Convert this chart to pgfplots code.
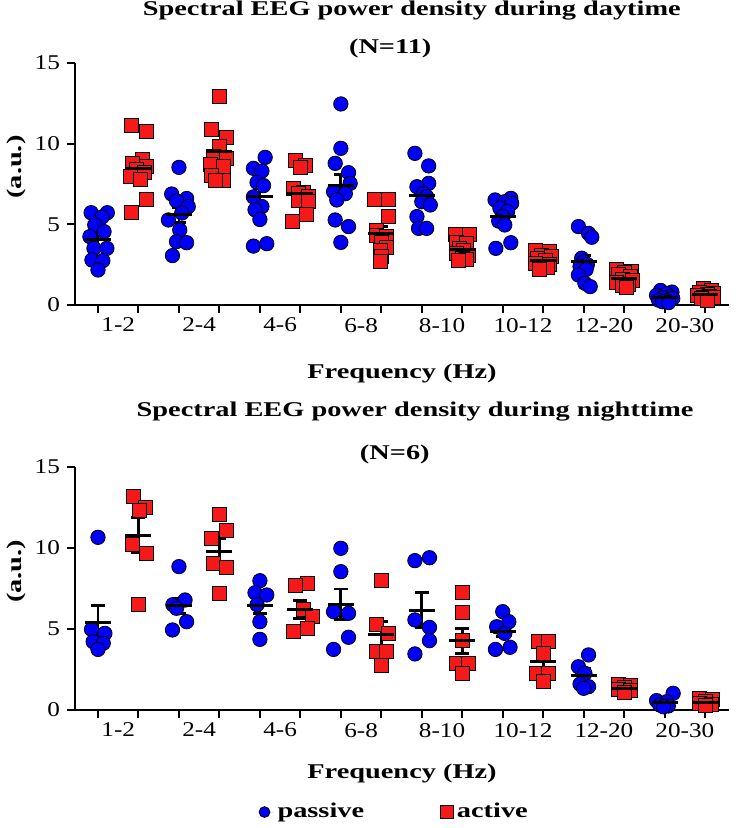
\documentclass[border=0pt]{standalone}
\usepackage{pgfplots}
\usepackage{pgfplotstable}
\pgfplotsset{compat=1.18}
\usepackage{fontspec}
\setmainfont{Liberation Serif}
\newfontfamily\wide{Liberation Serif}[FakeStretch=1.2]
\newfontfamily\widebf{Liberation Serif Bold}[FakeStretch=1.35]
\newcommand\tfont{\widebf\fontsize{10.5}{13}\selectfont}
\definecolor{pblue}{RGB}{0,0,250}
\definecolor{ared}{RGB}{245,25,25}

% ---------- top panel (daytime) ----------
\pgfplotstableread{
x y
-0.17 5.72
0.23 5.72
0.10 5.45
-0.08 4.96
0.15 4.55
-0.20 4.24
-0.10 3.51
0.22 3.51
-0.15 2.79
0.12 2.75
0.00 2.17
2.00 8.53
1.82 6.88
2.19 6.60
1.94 6.45
2.23 6.10
2.07 5.70
1.74 5.27
2.02 4.65
1.94 3.93
2.19 3.86
1.84 3.06
4.13 9.15
3.84 8.47
4.05 8.30
3.93 7.60
4.09 7.40
3.84 6.70
4.05 6.10
3.88 5.90
4.00 5.30
3.84 3.65
4.17 3.80
6.00 12.46
6.00 9.71
5.86 8.78
6.19 8.20
6.23 7.54
5.82 7.02
6.11 6.90
5.90 6.51
5.86 5.27
6.19 4.86
6.00 3.88
7.83 9.40
8.17 8.62
8.17 7.54
7.88 7.33
8.04 6.90
8.12 6.71
8.00 6.40
8.21 6.20
7.88 5.48
7.92 4.75
8.12 4.75
10.20 6.61
9.81 6.51
10.05 6.40
10.22 6.30
9.93 6.00
10.12 5.80
10.00 5.48
9.90 5.20
10.05 4.96
10.20 3.86
9.83 3.51
11.87 4.86
12.12 4.44
12.20 4.20
11.95 2.90
12.00 2.69
12.09 2.50
11.91 2.38
12.06 2.20
11.87 1.86
12.03 1.34
12.16 1.14
13.90 0.90
14.18 0.80
14.05 0.70
13.80 0.60
14.12 0.50
13.95 0.45
14.20 0.40
13.85 0.30
14.05 0.25
13.95 0.20
14.10 0.15
}\dayP
\pgfplotstableread{
x y
0.83 11.16
1.19 10.74
1.10 9.00
0.85 8.80
1.20 8.60
0.95 8.40
1.15 8.20
0.80 8.00
1.05 7.80
1.19 6.55
0.83 5.74
3.00 12.91
2.81 10.89
3.18 10.39
3.00 9.80
2.85 9.20
3.18 9.10
2.77 8.70
3.10 8.60
2.81 8.06
3.10 7.75
2.90 7.75
4.87 8.99
5.12 8.68
5.00 8.50
4.83 7.20
5.07 7.00
4.95 6.90
5.20 6.70
4.95 6.50
5.20 6.40
5.16 5.60
4.80 5.17
6.84 6.55
7.17 6.55
7.17 5.48
6.88 4.60
6.88 4.34
7.13 4.24
7.00 3.90
7.13 3.60
6.97 3.41
7.00 3.00
6.97 2.69
8.82 4.40
9.18 4.40
8.86 3.90
9.11 3.80
8.94 3.50
9.03 3.40
8.86 3.20
9.14 3.10
9.00 2.90
9.11 2.80
8.90 2.75
10.80 3.40
11.15 3.35
10.95 3.10
11.20 3.00
10.85 2.90
11.05 2.75
10.80 2.60
11.15 2.50
10.95 2.40
11.10 2.30
10.90 2.20
12.82 2.20
13.18 2.10
13.00 2.00
12.85 1.90
13.15 1.80
12.95 1.60
13.20 1.50
12.80 1.40
13.10 1.30
12.95 1.20
13.05 1.10
14.95 1.00
15.15 0.90
14.85 0.80
15.20 0.70
15.05 0.65
14.80 0.60
15.10 0.55
14.95 0.50
15.20 0.45
14.90 0.40
15.05 0.30
}\dayA
\pgfplotstableread{
x m s
0 4.03 0.39
1 8.47 0.47
2 5.58 0.47
3 9.50 0.48
4 6.71 0.51
5 6.92 0.37
6 7.38 0.72
7 4.44 0.41
8 6.76 0.41
9 3.41 0.17
10 5.48 0.31
11 2.75 0.15
12 2.67 0.38
13 1.63 0.10
14 0.48 0.08
15 0.62 0.08
}\dayM

% ---------- bottom panel (nighttime) ----------
\pgfplotstableread{
x y
0.00 10.66
-0.16 4.98
0.17 4.73
-0.12 4.22
0.13 4.12
0.00 3.74
2.00 8.85
2.15 6.79
1.85 6.50
1.94 6.28
2.19 5.45
1.84 4.94
4.00 7.98
3.88 7.24
4.17 7.10
3.93 6.50
4.00 5.45
4.00 4.36
6.00 9.98
6.00 8.54
5.82 6.07
6.19 5.97
6.19 4.49
5.82 3.74
7.83 9.22
8.19 9.40
7.83 5.56
8.19 5.10
8.19 4.28
7.83 3.46
10.00 6.07
10.15 5.45
9.85 5.14
10.05 4.73
10.18 3.87
9.82 3.74
12.12 3.40
11.87 2.67
12.03 2.26
11.91 1.60
12.12 1.44
12.00 1.34
13.80 0.58
14.21 1.03
14.05 0.51
13.88 0.31
14.09 0.25
13.97 0.20
}\nightP
\pgfplotstableread{
x y
0.88 13.20
1.17 12.50
1.03 12.30
0.85 10.25
1.20 9.67
1.00 6.54
3.00 12.10
3.18 11.07
2.81 10.60
2.85 9.05
3.18 8.81
3.00 7.20
5.17 7.82
4.87 7.72
5.07 6.20
5.30 5.76
5.17 5.04
4.83 4.84
7.00 8.02
6.88 5.31
7.17 4.73
6.88 3.60
7.13 3.60
7.00 2.74
9.00 7.24
9.00 6.00
9.00 4.32
8.86 2.88
9.15 2.88
9.00 2.26
10.88 4.22
11.12 4.22
11.00 3.50
10.83 2.26
11.12 2.26
11.00 1.75
12.85 1.55
13.15 1.50
13.00 1.40
12.85 1.30
13.15 1.20
13.00 1.10
14.85 0.70
15.18 0.65
15.00 0.50
14.85 0.40
15.15 0.35
15.00 0.30
}\nightA
\pgfplotstableread{
x m s
0 5.39 1.08
1 10.80 1.06
2 6.42 0.46
3 9.81 0.74
4 6.48 0.53
5 6.21 0.56
6 6.52 0.95
7 4.63 0.81
8 6.17 1.07
9 4.26 0.77
10 4.84 0.30
11 2.98 0.47
12 2.16 0.41
13 1.34 0.10
14 0.47 0.10
15 0.47 0.08
}\nightM

\pgfplotsset{
  eegaxis/.style={
    scale only axis,
    width=327pt,
    anchor=south west,
    xmin=-0.568, xmax=15.59,
    ymin=0, ymax=15,
    clip=false,
    axis x line*=bottom,
    axis y line*=left,
    axis line style={line width=1.4pt, black},
    tick align=outside,
    major tick length=4pt,
    tick style={line width=1pt, black},
    ytick={0,5,10,15},
    xtick={0,...,15},
    xticklabels={},
    extra x ticks={0.5,2.5,4.5,6.5,8.5,10.5,12.5,14.5},
    extra x tick labels={1-2,2-4,4-6,6-8,8-10,10-12,12-20,20-30},
    extra x tick style={major tick length=0pt, tick style={draw=none}},
    /pgf/number format/assume math mode=true,
    tick label style={font=\wide\fontsize{10.5}{12}\selectfont},
    xticklabel style={yshift=-3pt},
    label style={font=\tfont},
    ylabel={(a.u.)},
    xlabel={Frequency (Hz)},
  },
  pts/.style={only marks, mark=*, mark size=3.6pt, draw=none, fill=pblue, mark options={draw=none, fill=pblue},
    legend image code/.code={\draw[##1, mark size=2.7pt] plot coordinates {(0pt,0pt)}; \path (-2.7pt,0pt) -- (4.5pt,0pt);}},
  sqs/.style={only marks, mark=square*, mark size=3.5pt, draw=none, fill=ared, mark options={draw=none, fill=ared},
    legend image code/.code={\draw[##1, mark size=3.2pt] plot coordinates {(0pt,0pt)};}},
  meanbar/.style={black, only marks, mark=-, mark size=6.5pt, mark options={line width=1.5pt, black},
    error bars/.cd, y dir=both, y explicit,
    error bar style={line width=1.4pt, black},
    error mark options={line width=1.4pt, mark size=3.5pt, black, rotate=90}},
}

\begin{document}
\begin{tikzpicture}
\useasboundingbox (0,0) rectangle (367.5pt,414pt);
\begin{axis}[eegaxis, at={(37.5pt,261.5pt)}, height=121pt,
  xlabel style={at={(axis description cs:0.5,-0.285)}, anchor=center},
  ylabel style={at={(axis description cs:-0.090,0.57)}, anchor=center},
]
\addplot[pts] table[x=x,y=y] {\dayP};
\addplot[sqs] table[x=x,y=y] {\dayA};
\addplot[forget plot, meanbar] table[x=x, y=m, y error=s] {\dayM};
\node[anchor=base, font=\tfont] at (axis description cs:0.515,1.195) {Spectral EEG power density during daytime};
\node[anchor=base, font=\tfont] at (axis description cs:0.482,1.041) {(N=11)};
\end{axis}
\begin{axis}[eegaxis, at={(37.5pt,59pt)}, height=121.5pt,
  xlabel style={at={(axis description cs:0.5,-0.263)}, anchor=center},
  ylabel style={at={(axis description cs:-0.090,0.57)}, anchor=center},
  legend style={draw=none, fill=none, legend columns=2,
    at={(axis description cs:0.49,-0.42)}, anchor=center,
    font=\tfont,
    /tikz/every even column/.append style={column sep=36pt}},
]
\addplot[pts] table[x=x,y=y] {\nightP};
\addlegendentry{passive}
\addplot[sqs] table[x=x,y=y] {\nightA};
\addlegendentry{active}
\addplot[forget plot, meanbar] table[x=x, y=m, y error=s] {\nightM};
\node[anchor=base, font=\tfont] at (axis description cs:0.52,1.206) {Spectral EEG power density during nighttime};
\node[anchor=base, font=\tfont] at (axis description cs:0.489,1.029) {(N=6)};
\end{axis}
\end{tikzpicture}
\end{document}
